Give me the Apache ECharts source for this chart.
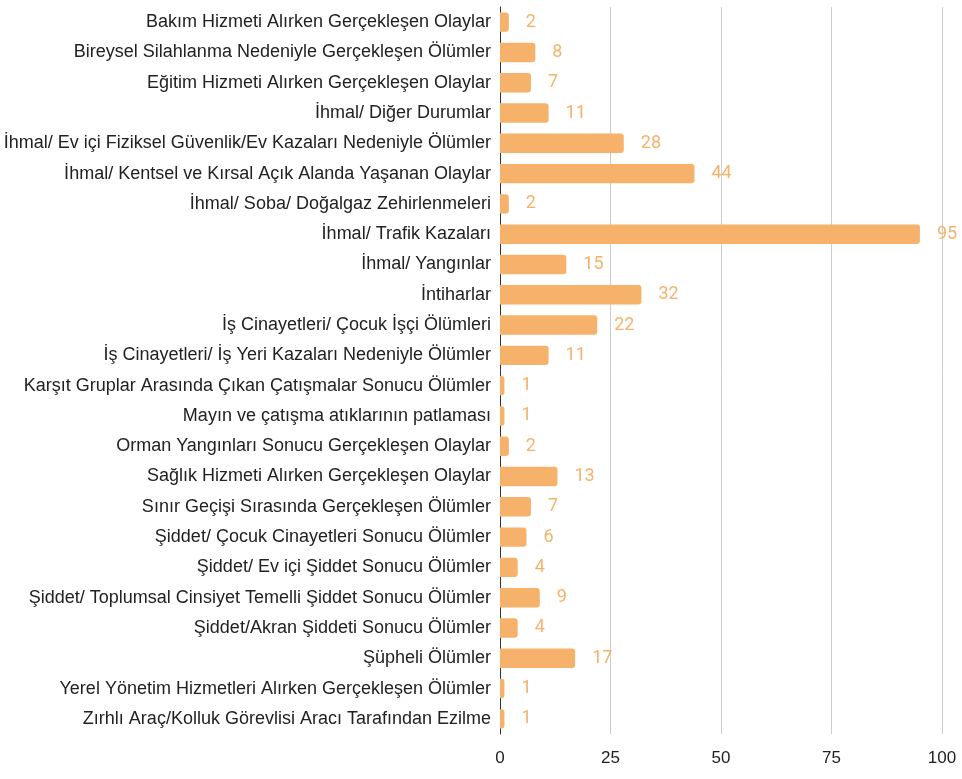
<!DOCTYPE html>
<html>
<head>
<meta charset="utf-8">
<script src="https://cdn.jsdelivr.net/npm/echarts@6/dist/echarts.min.js"></script>
<style>
  html, body { margin: 0; padding: 0; background: #fff; }
  #chart { width: 962px; height: 779px; }
</style>
</head>
<body>
<div id="chart"></div>
<script>
// kategoriler (yukaridan asagiya)
var categories = [
    'Bakım Hizmeti Alırken Gerçekleşen Olaylar',
    'Bireysel Silahlanma Nedeniyle Gerçekleşen Ölümler',
    'Eğitim Hizmeti Alırken Gerçekleşen Olaylar',
    'İhmal/ Diğer Durumlar',
    'İhmal/ Ev içi Fiziksel Güvenlik/Ev Kazaları Nedeniyle Ölümler',
    'İhmal/ Kentsel ve Kırsal Açık Alanda Yaşanan Olaylar',
    'İhmal/ Soba/ Doğalgaz Zehirlenmeleri',
    'İhmal/ Trafik Kazaları',
    'İhmal/ Yangınlar',
    'İntiharlar',
    'İş Cinayetleri/ Çocuk İşçi Ölümleri',
    'İş Cinayetleri/ İş Yeri Kazaları Nedeniyle Ölümler',
    'Karşıt Gruplar Arasında Çıkan Çatışmalar Sonucu Ölümler',
    'Mayın ve çatışma atıklarının patlaması',
    'Orman Yangınları Sonucu Gerçekleşen Olaylar',
    'Sağlık Hizmeti Alırken Gerçekleşen Olaylar',
    'Sınır Geçişi Sırasında Gerçekleşen Ölümler',
    'Şiddet/ Çocuk Cinayetleri Sonucu Ölümler',
    'Şiddet/ Ev içi Şiddet Sonucu Ölümler',
    'Şiddet/ Toplumsal Cinsiyet Temelli Şiddet Sonucu Ölümler',
    'Şiddet/Akran Şiddeti Sonucu Ölümler',
    'Şüpheli Ölümler',
    'Yerel Yönetim Hizmetleri Alırken Gerçekleşen Ölümler',
    'Zırhlı Araç/Kolluk Görevlisi Aracı Tarafından Ezilme'
];

// degerler
var values = [2, 8, 7, 11, 28, 44, 2, 95, 15, 32, 22, 11, 1, 1, 2, 13, 7, 6, 4, 9, 4, 17, 1, 1];

var chart = echarts.init(document.getElementById('chart'));

chart.setOption({
    animation: false,
    grid: {
        left: 500,
        right: 20,
        top: 7,
        bottom: 45,
        containLabel: false
    },
    xAxis: {
        type: 'value',
        min: 0,
        max: 100,
        interval: 25,
        axisLine: { show: false },
        axisTick: { show: false },
        axisLabel: {
            color: '#222',
            fontSize: 17,
            fontFamily: 'Liberation Sans, Arial',
            margin: 16
        },
        splitLine: {
            lineStyle: { color: '#cccccc', width: 1 }
        }
    },
    yAxis: {
        type: 'category',
        inverse: true,
        data: categories,
        axisLine: {
            show: true,
            lineStyle: { color: '#333', width: 1 }
        },
        axisTick: { show: false },
        axisLabel: {
            color: '#222',
            fontSize: 18,
            fontFamily: 'Liberation Sans, Arial',
            margin: 9
        }
    },
    series: [{
        type: 'bar',
        data: values,
        barCategoryGap: '36%',
        itemStyle: {
            color: '#f6b26b',
            borderRadius: [0, 3, 3, 0]
        },
        label: {
            show: true,
            position: 'right',
            distance: 17,
            color: '#f6b26b',
            fontSize: 18,
            fontFamily: 'Roboto'
        }
    }]
});
</script>
</body>
</html>
